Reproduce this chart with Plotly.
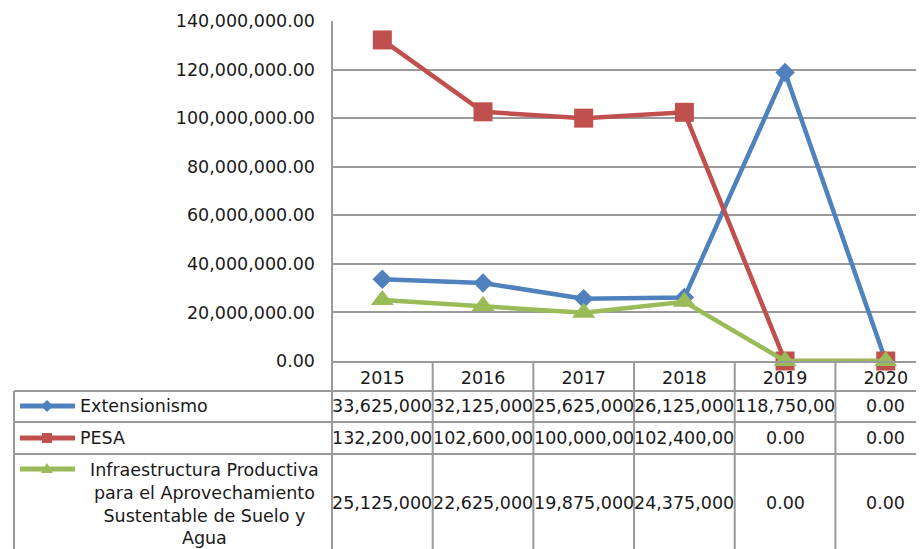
import plotly.graph_objects as go

years = ["2015", "2016", "2017", "2018", "2019", "2020"]
series_names = [
    "Extensionismo",
    "PESA",
    "Infraestructura Productiva<br>para el Aprovechamiento<br>Sustentable de Suelo y<br>Agua",
]
extensionismo = [33625000, 32125000, 25625000, 26125000, 118750000, 0]
pesa = [132200000, 102600000, 100000000, 102400000, 0, 0]
infraestructura = [25125000, 22625000, 19875000, 24375000, 0, 0]

colors = ["#4F81BD", "#C0504D", "#9BBB59"]
symbols = ["diamond", "square", "triangle-up"]
sizes = [15, 19, 20]
values = [extensionismo, pesa, infraestructura]

FONT = "DejaVu Sans"
FS = 17.5
TXT = "#1a1a1a"
GRID = "#9a9a9a"
OFF = 8  # page body margin
PAGE_W, PAGE_H = 924, 549
W, H = PAGE_W - OFF, PAGE_H - OFF
# plot area in page pixels
PX_L, PX_T, PX_B = 332, 21, 361
L = PX_L - OFF
T = PX_T - OFF
B = PAGE_H - PX_B
PW = PAGE_W - PX_L
PH = PX_B - PX_T


def px_x(p):
    return (p - PX_L) / PW


def px_y(p):
    return (PX_B - p) / PH


fig = go.Figure()
for name, vals, c, s, sz in zip(series_names, values, colors, symbols, sizes):
    fig.add_trace(go.Scatter(
        x=years, y=vals, mode="lines+markers", name=name.replace("<br>", " "),
        line=dict(color=c, width=4.5),
        marker=dict(symbol=s, size=sz, color=c, line=dict(width=0)),
        showlegend=False, cliponaxis=False,
    ))

shapes = []
annotations = []
bottom = px_y(PAGE_H + 5)
for i in range(len(years)):
    shapes.append(dict(type="line", xref="x", yref="paper", x0=i + 0.5, x1=i + 0.5,
                       y0=0, y1=bottom, line=dict(color=GRID, width=2)))
shapes.append(dict(type="line", xref="paper", yref="paper", x0=0, x1=0,
                   y0=1, y1=bottom, line=dict(color=GRID, width=2)))
shapes.append(dict(type="line", xref="paper", yref="paper", x0=px_x(14), x1=px_x(14),
                   y0=px_y(391), y1=bottom, line=dict(color=GRID, width=2)))
for yy in [391, 422, 454]:
    shapes.append(dict(type="line", xref="paper", yref="paper", x0=px_x(14), x1=1,
                       y0=px_y(yy), y1=px_y(yy), line=dict(color=GRID, width=2)))

row_centers = [406, 438, 503]
key_y = [406, 438, 469]
for r, (name, vals, c, s) in enumerate(zip(series_names, values, colors, symbols)):
    for i, v in enumerate(vals):
        annotations.append(dict(
            xref="x", yref="paper", x=i, y=px_y(row_centers[r]),
            text=f"{v:,.2f}"[:10], showarrow=False, xanchor="center", yanchor="middle",
            font=dict(family=FONT, size=FS, color=TXT),
        ))
    if r < 2:
        annotations.append(dict(
            xref="paper", yref="paper", x=px_x(78), y=px_y(row_centers[r]),
            text=name, showarrow=False, xanchor="left", yanchor="middle",
            font=dict(family=FONT, size=FS, color=TXT),
        ))
    else:
        annotations.append(dict(
            xref="paper", yref="paper", x=px_x(204), y=px_y(row_centers[r] + 1),
            text=name, showarrow=False, xanchor="center", yanchor="middle", align="center",
            font=dict(family=FONT, size=FS, color=TXT),
        ))
    ky = px_y(key_y[r])
    shapes.append(dict(type="line", xref="paper", yref="paper", x0=px_x(20), x1=px_x(75),
                       y0=ky, y1=ky, line=dict(color=c, width=5)))
    if s == "diamond":
        path = "M-6,0 L0,6 L6,0 L0,-6 Z"
    elif s == "square":
        path = "M-5,-5 L5,-5 L5,5 L-5,5 Z"
    else:
        path = "M-6,-4 L6,-4 L0,6 Z"
    shapes.append(dict(type="path", xref="paper", yref="paper", xsizemode="pixel",
                       ysizemode="pixel", xanchor=px_x(47), yanchor=ky, path=path,
                       fillcolor=c, line=dict(width=0)))

fig.update_layout(
    width=W, height=H,
    margin=dict(l=L, r=0, t=T, b=B, pad=0),
    paper_bgcolor="white", plot_bgcolor="white",
    font=dict(family=FONT, size=FS, color=TXT),
    shapes=shapes, annotations=annotations,
    xaxis=dict(type="category", range=[-0.5, 5.38], showgrid=False, ticks="",
               showline=True, linecolor=GRID, linewidth=2, zeroline=False,
               tickfont=dict(family=FONT, size=FS, color=TXT)),
    yaxis=dict(range=[0, 140000000], dtick=20000000, tickformat=",.2f",
               showgrid=True, gridcolor=GRID, gridwidth=2, zeroline=False,
               showline=False, ticks="", ticklabelstandoff=16,
               tickfont=dict(family=FONT, size=FS, color=TXT)),
)

fig.write_html("out.html")
